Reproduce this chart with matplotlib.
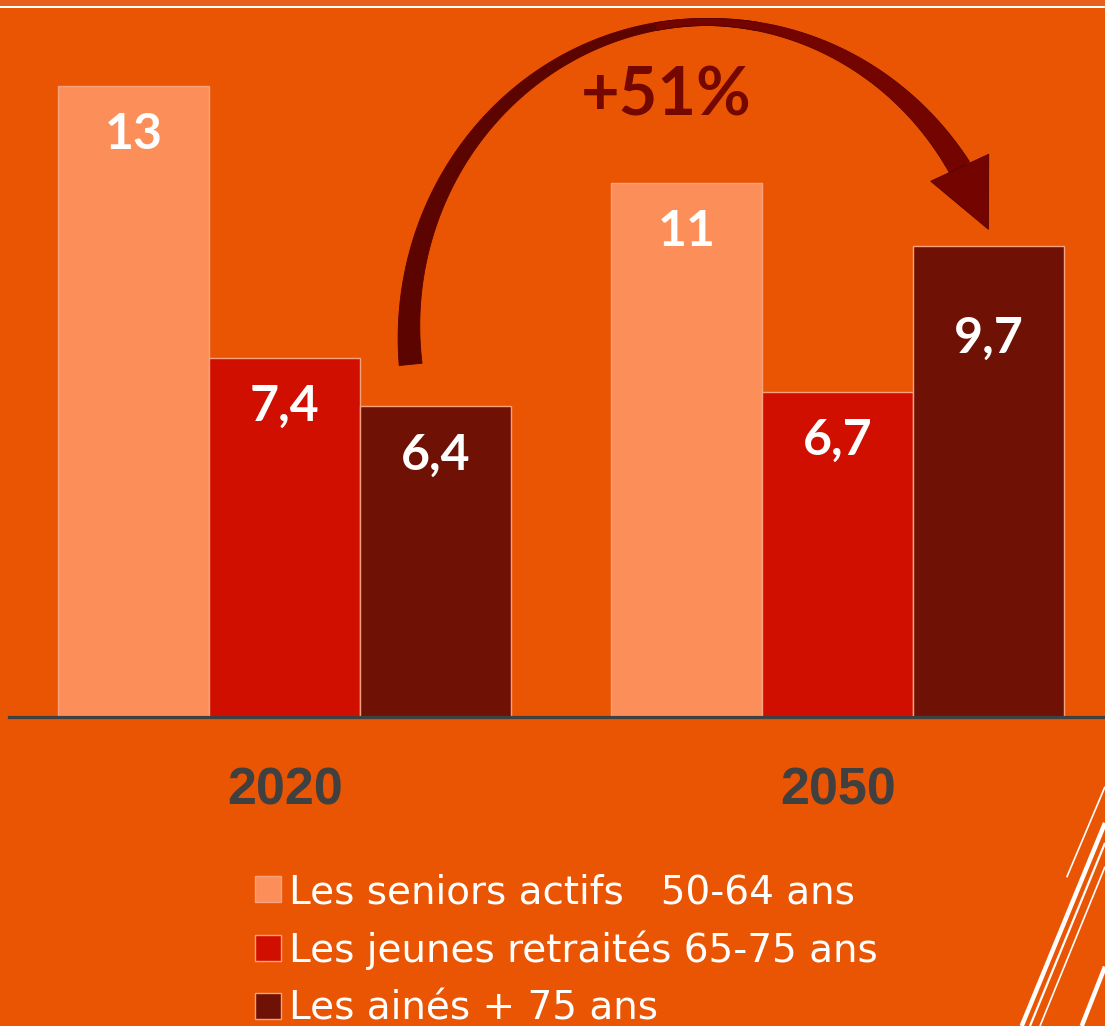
import numpy as np
import matplotlib
matplotlib.use('Agg')
import matplotlib.pyplot as plt
from matplotlib.patches import Rectangle, Polygon

# data
years = ['2020', '2050']
seniors_actifs = [13, 11]
jeunes_retraites = [7.4, 6.7]
aines = [6.4, 9.7]
series_names = ['Les seniors actifs   50-64 ans',
                'Les jeunes retraités 65-75 ans',
                'Les ainés + 75 ans']
hausse_label = '+51%'

bg = '#EA5504'
colors = ['#FC8F59', '#D10F00', '#6F1205']

fig = plt.figure(figsize=(11.05, 10.26), dpi=100)
fig.patch.set_facecolor(bg)

# main axes (pixel layout: baseline at y=717, x from 9 to 1105)
ax = fig.add_axes([9 / 1105, (1026 - 717) / 1026, 1096 / 1105, 680 / 1026])
ax.set_facecolor('none')
ax.set_xlim(-0.499, 1.483)
ax.set_ylim(0, 14)

x = np.arange(len(years))
w = 0.273
series = [seniors_actifs, jeunes_retraites, aines]
label_drop = [[45.7, 45.7], [45.7, 45.7], [45.7, 76.7]]  # pt below bar top (baseline)
for i, vals in enumerate(series):
    bars = ax.bar(x + (i - 1) * w, vals, w, color=colors[i], edgecolor='#F7A27E',
                  linewidth=1, label=series_names[i], zorder=2)
    for j, (b, v) in enumerate(zip(bars, vals)):
        ax.annotate(f'{v:g}'.replace('.', ','), (b.get_x() + b.get_width() / 2, v),
                    xytext=(0, -label_drop[i][j]), textcoords='offset points',
                    ha='center', va='baseline', color='white', fontsize=36,
                    fontweight='bold', family='Lato', zorder=3)

for s in ['top', 'right', 'left']:
    ax.spines[s].set_visible(False)
ax.spines['bottom'].set_color('#404040')
ax.spines['bottom'].set_linewidth(2.3)
ax.set_yticks([])
ax.set_xticks(x)
ax.set_xticklabels(years, fontsize=37.5, fontweight='bold', color='#404040',
                   family='Liberation Sans')
ax.tick_params(axis='x', length=0, pad=35.5)

# legend
leg = fig.legend(loc='upper left', bbox_to_anchor=(255 / 1105, 1 - 873 / 1026),
                 frameon=False, prop={'family': 'DejaVu Sans', 'size': 28},
                 labelcolor='white', handlelength=0.66, handleheight=0.66,
                 handletextpad=0.22, labelspacing=0.5, borderpad=0, borderaxespad=0)

# overlay in pixel coordinates for decorations
ov = fig.add_axes([0, 0, 1, 1], zorder=5)
ov.set_xlim(0, 1105)
ov.set_ylim(1026, 0)
ov.axis('off')
ov.patch.set_alpha(0)

# top band + white rule
ov.add_patch(Rectangle((0, 0), 1105, 5.7, color='#E8601C', lw=0))
ov.add_patch(Rectangle((0, 5.7), 1105, 2.0, color='white', lw=0))

# curved arrow
cx, cy, a, b = 707, 332, 298, 310
p0, p1 = np.radians(186), np.radians(32)
phi = np.linspace(p0, p1, 300)
s = np.where(phi > np.pi / 2, (phi - np.pi / 2) / (p0 - np.pi / 2),
             (np.pi / 2 - phi) / (np.pi / 2 - p1))
wid = 7 + 16 * s ** 1.3
px = cx + a * np.cos(phi)
py = cy - b * np.sin(phi)
tx, ty = a * np.sin(phi), b * np.cos(phi)
nrm = np.hypot(tx, ty)
tx, ty = tx / nrm, ty / nrm
nx, ny = -ty, tx
out_x, out_y = px + nx * wid / 2, py + ny * wid / 2
in_x, in_y = px - nx * wid / 2, py - ny * wid / 2

back = phi >= np.radians(80)
front = phi <= np.radians(100)
for m, col in [(back, '#5C0500'), (front, '#730400')]:
    pts = np.column_stack([np.r_[out_x[m], in_x[m][::-1]], np.r_[out_y[m], in_y[m][::-1]]])
    ov.add_patch(Polygon(pts, closed=True, facecolor=col, edgecolor='#5A0000', lw=0.6))

ex, ey = px[-1], py[-1]
dx, dy = tx[-1], ty[-1]
ang = np.radians(6)
dx, dy = dx * np.cos(ang) - dy * np.sin(ang), dx * np.sin(ang) + dy * np.cos(ang)
hx, hy = -dy, dx
head = [(ex + hx * 32, ey + hy * 32), (ex + dx * 68, ey + dy * 68), (ex - hx * 32, ey - hy * 32)]
ov.add_patch(Polygon(head, closed=True, facecolor='#730400', edgecolor='#5A0000', lw=0.6))

ov.text(666, 115, hausse_label, ha='center', va='baseline', fontsize=48,
        fontweight='bold', color='#740800', family='Lato')

# slide decoration lines (bottom right)
for (x0, y0, x1, y1, lw) in [(1105, 786.7, 1066.7, 877.3, 1.2),
                              (1105, 823, 1021.7, 1026, 3.2),
                              (1105, 843, 1030, 1026, 1.6),
                              (1105, 866.7, 1040, 1026, 1.2),
                              (1105, 966.7, 1081.7, 1026, 3.2)]:
    ov.plot([x0, x1], [y0, y1], color='white', lw=lw, solid_capstyle='butt')

fig.savefig('out.png', dpi=100, facecolor=bg)
